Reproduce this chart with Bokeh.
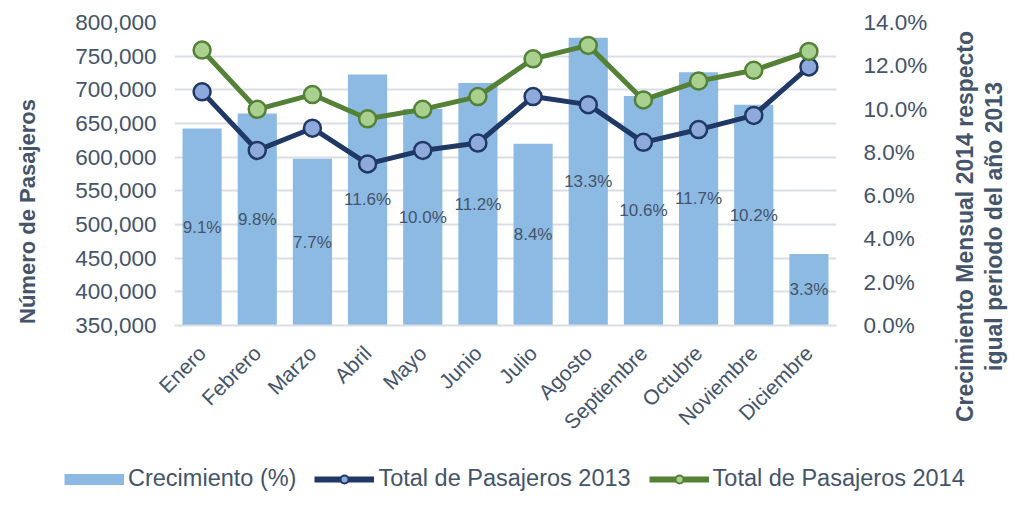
from bokeh.plotting import figure
from bokeh.models import (Range1d, LinearAxis, FactorRange, NumeralTickFormatter,
                          PrintfTickFormatter, SingleIntervalTicker, Legend, LegendItem,
                          ColumnDataSource, FixedTicker)
from bokeh.layouts import column, row
from bokeh.core.properties import value
from bokeh.embed import file_html
from bokeh.resources import INLINE
import math

meses = ["Enero", "Febrero", "Marzo", "Abril", "Mayo", "Junio", "Julio",
         "Agosto", "Septiembre", "Octubre", "Noviembre", "Diciembre"]
crecimiento = [9.1, 9.8, 7.7, 11.6, 10.0, 11.2, 8.4, 13.3, 10.6, 11.7, 10.2, 3.3]
pasajeros_2013 = [697000, 610000, 643000, 590000, 610000, 621000, 690000,
                  678000, 622000, 641000, 662000, 734000]
pasajeros_2014 = [759000, 671000, 693000, 657000, 671000, 690000, 746000,
                  766000, 685000, 713000, 729000, 757000]
series = ["Crecimiento (%)", "Total de Pasajeros 2013", "Total de Pasajeros 2014"]
titulo_izq = "Número de Pasajeros"
titulo_der = "Crecimiento Mensual 2014 respecto\nigual periodo del año 2013"

FONT = "Liberation Sans"
TXT = "#44546A"
BAR = "#8DBAE2"
C13 = "#1F3864"
C13F = "#8EA9DB"
C14 = "#538135"
C14F = "#A9D08E"
GRID = "#D9DEE4"

src = ColumnDataSource(dict(
    mes=meses, pct=crecimiento,
    pct_mid=[v / 2 for v in crecimiento],
    pct_lbl=[f"{v:.1f}%" for v in crecimiento],
    p13=pasajeros_2013, p14=pasajeros_2014))


def title_fig(width, border_left, border_top, border_bottom, text, size, standoff):
    f = figure(width=width, height=444, x_range=Range1d(0, 1), y_range=Range1d(0, 1),
               output_backend="svg", toolbar_location=None, x_axis_type=None,
               min_border_left=border_left, min_border_right=0,
               min_border_top=border_top, min_border_bottom=border_bottom)
    f.outline_line_color = None
    f.frame_align = False
    f.grid.visible = False
    a = f.yaxis[0]
    a.ticker = FixedTicker(ticks=[])
    a.axis_line_color = None
    a.major_tick_line_color = None
    a.minor_tick_line_color = None
    a.major_tick_out = 0
    a.major_label_standoff = 0
    a.axis_label = text
    a.axis_label_text_font = FONT
    a.axis_label_text_font_size = size
    a.axis_label_text_font_style = "bold"
    a.axis_label_text_color = TXT
    a.axis_label_text_line_height = 1.1
    a.axis_label_standoff = standoff
    return f


ltf = title_fig(41, 39, 22, 44, titulo_izq, "22px", 0)
rtf = title_fig(78, 76, 22, 14, titulo_der, "23px", 0)

p = figure(width=889, height=444, x_range=FactorRange(*meses),
           y_range=Range1d(350000, 800000), output_backend="svg",
           toolbar_location=None, min_border_left=133, min_border_right=94,
           min_border_top=22, min_border_bottom=116)
p.outline_line_color = None
p.frame_align = False
p.extra_y_ranges = {"pct": Range1d(0, 14)}

p.vbar(x="mes", top="pct", bottom=0, width=0.71, source=src,
       y_range_name="pct", fill_color=BAR, line_color=None)
p.text(x="mes", y="pct_mid", text="pct_lbl", source=src, y_range_name="pct",
       text_font=value(FONT), text_font_size="17px", text_color=TXT,
       text_align="center", text_baseline="middle")

p.line(x="mes", y="p13", source=src, line_color=C13, line_width=5)
p.scatter(x="mes", y="p13", source=src, size=17, fill_color=C13F,
          line_color=C13, line_width=2.5)
p.line(x="mes", y="p14", source=src, line_color=C14, line_width=5)
p.scatter(x="mes", y="p14", source=src, size=17, fill_color=C14F,
          line_color=C14, line_width=2.5)

ax = p.yaxis[0]
ax.ticker = SingleIntervalTicker(interval=50000)
ax.formatter = NumeralTickFormatter(format="0,0")
ax.axis_line_color = None
ax.major_tick_line_color = None
ax.minor_tick_line_color = None
ax.major_label_text_font = FONT
ax.major_label_text_font_size = "22.5px"
ax.major_label_text_color = TXT
ax.major_label_standoff = 12

ra = LinearAxis(y_range_name="pct", ticker=SingleIntervalTicker(interval=2),
                formatter=PrintfTickFormatter(format="%.1f%%"))
ra.axis_line_color = None
ra.major_tick_line_color = None
ra.minor_tick_line_color = None
ra.major_label_text_font = FONT
ra.major_label_text_font_size = "22.5px"
ra.major_label_text_color = TXT
ra.major_label_standoff = 21
p.add_layout(ra, "right")

xa = p.xaxis[0]
xa.axis_line_color = GRID
xa.axis_line_width = 2
xa.major_tick_line_color = None
xa.minor_tick_line_color = None
xa.major_label_orientation = math.pi / 4
xa.major_label_text_font = FONT
xa.major_label_text_font_size = "21px"
xa.major_label_text_color = TXT
xa.major_label_standoff = 18

p.xgrid.grid_line_color = None
p.ygrid.grid_line_color = GRID
p.ygrid.grid_line_width = 2

# legend strip
lf = figure(width=1008, height=48, x_range=Range1d(0, 1), y_range=Range1d(0, 1),
            output_backend="svg", toolbar_location=None,
            x_axis_type=None, y_axis_type=None, min_border=0)
lf.outline_line_color = None
lf.frame_align = False
lf.grid.visible = False
nan = [float("nan")]
r0 = lf.line(x=nan, y=nan, line_color=BAR, line_width=11)
r1a = lf.line(x=nan, y=nan, line_color=C13, line_width=6)
r1b = lf.scatter(x=nan, y=nan, size=11, fill_color=C13F, line_color=C13, line_width=2)
r2a = lf.line(x=nan, y=nan, line_color=C14, line_width=6)
r2b = lf.scatter(x=nan, y=nan, size=11, fill_color=C14F, line_color=C14, line_width=2)

legend = Legend(items=[
    LegendItem(label=series[0], renderers=[r0]),
    LegendItem(label=series[1], renderers=[r1a, r1b]),
    LegendItem(label=series[2], renderers=[r2a, r2b]),
], orientation="horizontal", location=(64, 0))
legend.label_text_font = FONT
legend.label_text_font_size = "23.5px"
legend.label_text_color = TXT
legend.glyph_width = 60
legend.glyph_height = 20
legend.label_standoff = 4
legend.spacing = 18
legend.padding = 0
legend.margin = 0
legend.border_line_color = None
legend.background_fill_alpha = 0
lf.add_layout(legend, "center")

layout = column(row(ltf, p, rtf, spacing=0), lf, spacing=0)
open("out.html", "w").write(file_html(layout, INLINE))
